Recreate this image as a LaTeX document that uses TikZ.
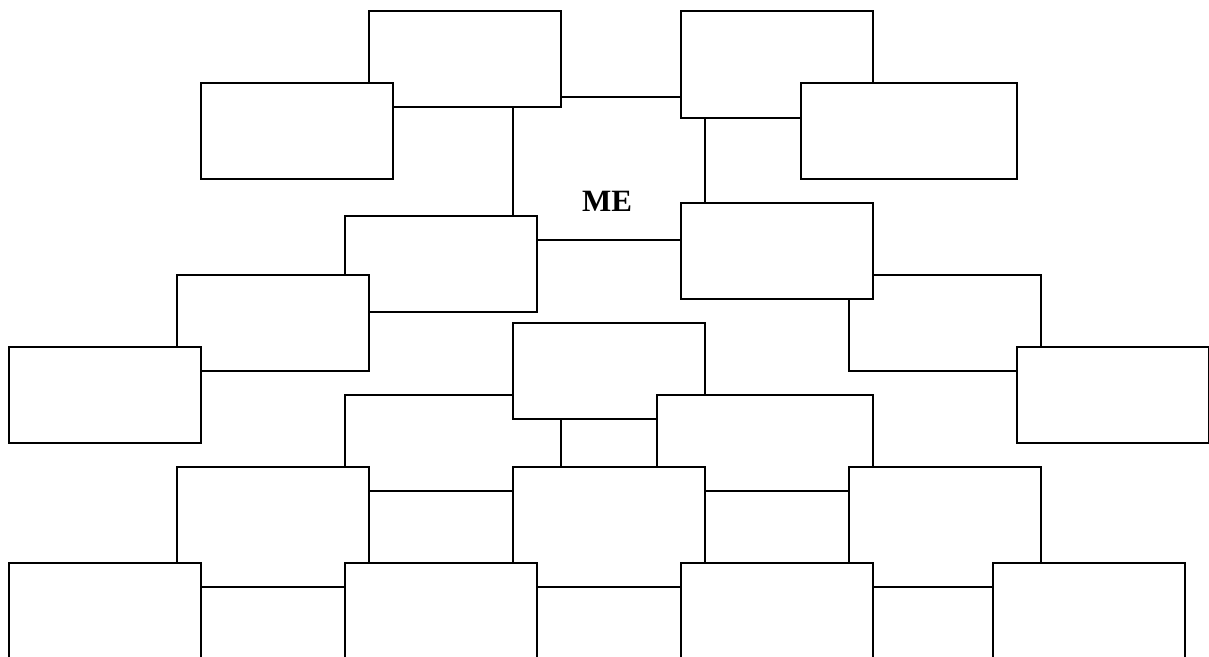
\documentclass[tikz,border=0pt]{standalone}
\usepackage{fontspec}
\setmainfont{Liberation Serif}
\tikzset{
  rbox/.style={draw=black, fill=white, line width=1pt, inner sep=0pt, outer sep=0pt, anchor=north west},
  metxt/.style={font=\fontsize{15.5}{18}\selectfont\bfseries, inner sep=0pt}
}
\newcommand\bx[5]{\node[rbox, minimum width=#4*0.5pt, minimum height=#5*0.5pt] (#1) at (#2,#3) {};}
\begin{document}
\begin{tikzpicture}[x=0.5pt, y=-0.5pt]
\useasboundingbox (0,0) rectangle (1209,657);
\clip (0,0) rectangle (1209,657);
% central box and back layers
\bx{me}{513}{97}{192}{143}
\node[metxt] (metext) at (607,201) {ME};
\bx{rb}{849}{275}{192}{96}
% top row
\bx{a}{369}{11}{192}{96}
\bx{c}{681}{11}{192}{107}
\bx{b}{201}{83}{192}{96}
\bx{d}{801}{83}{216}{96}
% second row
\bx{e}{345}{216}{192}{96}
\bx{g}{681}{203}{192}{96}
\bx{f}{177}{275}{192}{96}
\bx{h}{9}{347}{192}{96}
\bx{j}{1017}{347}{192}{96}
% middle
\bx{m}{345}{395}{216}{96}
\bx{k}{513}{323}{192}{96}
\bx{l}{657}{395}{216}{96}
% fourth row
\bx{n}{177}{467}{192}{120}
\bx{o}{513}{467}{192}{120}
\bx{s}{849}{467}{192}{120}
% bottom row
\bx{q}{9}{563}{192}{110}
\bx{r}{345}{563}{192}{110}
\bx{t}{681}{563}{192}{110}
\bx{u}{993}{563}{192}{110}
\end{tikzpicture}
\end{document}
